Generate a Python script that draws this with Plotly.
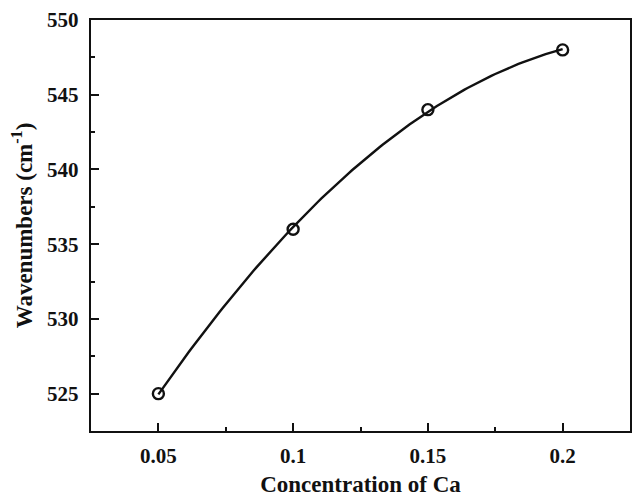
import numpy as np
import plotly.graph_objects as go

ca_conc = [0.05, 0.1, 0.15, 0.2]
wavenumbers = [525, 536, 544, 548]
x_ticks = [0.05, 0.1, 0.15, 0.2]
x_tick_labels = ["0.05", "0.1", "0.15", "0.2"]
y_ticks = [525, 530, 535, 540, 545, 550]
y_tick_labels = ["525", "530", "535", "540", "545", "550"]

# quadratic fit curve derived from the data points
coef = np.polyfit(ca_conc, wavenumbers, 2)
xf = np.linspace(min(ca_conc), max(ca_conc), 120)
yf = np.polyval(coef, xf)

fig = go.Figure()
fig.add_trace(go.Scatter(x=xf, y=yf, mode="lines",
                         line=dict(color="#111111", width=2.4), showlegend=False))
fig.add_trace(go.Scatter(x=ca_conc, y=wavenumbers, mode="markers",
                         marker=dict(symbol="circle-open", size=11, color="#111111",
                                     line=dict(width=2.4, color="#111111")),
                         showlegend=False))

tf = dict(family="Liberation Serif", size=21, color="#111111")
titf = dict(family="Liberation Serif", size=23, color="#111111")
fig.update_layout(
    width=632, height=497,
    margin=dict(l=91, r=2, t=20, b=66),
    plot_bgcolor="white", paper_bgcolor="white",
    font=dict(family="Liberation Serif", color="#111111", size=21),
    xaxis=dict(range=[0.025, 0.225], tickvals=x_ticks,
               ticktext=["<b>%s</b>" % t for t in x_tick_labels],
               ticks="inside", ticklen=8, tickwidth=2, tickcolor="#111111",
               showline=True, linewidth=2.4, linecolor="#111111", mirror=True,
               showgrid=False, zeroline=False, automargin=False,
               ticklabelstandoff=5,
               minor=dict(ticks="inside", ticklen=4, tickwidth=2, tickcolor="#111111",
                          dtick=0.025, showgrid=False),
               tickfont=tf,
               title=dict(text="<b>Concentration of Ca</b>", standoff=19, font=titf)),
    yaxis=dict(range=[522.5, 550], tickvals=y_ticks,
               ticktext=["<b>%s</b>" % t for t in y_tick_labels],
               ticks="inside", ticklen=8, tickwidth=2, tickcolor="#111111",
               showline=True, linewidth=2.4, linecolor="#111111", mirror=True,
               showgrid=False, zeroline=False, automargin=False,
               ticklabelstandoff=6,
               minor=dict(ticks="inside", ticklen=4, tickwidth=2, tickcolor="#111111",
                          dtick=2.5, showgrid=False),
               tickfont=tf,
               title=dict(text="<b>Wavenumbers (cm<sup>-1</sup>)</b>", standoff=8, font=titf)),
)
fig.write_html("out.html", config={"displayModeBar": False},
               post_script="document.body.style.margin='0';document.body.style.overflow='hidden';")
